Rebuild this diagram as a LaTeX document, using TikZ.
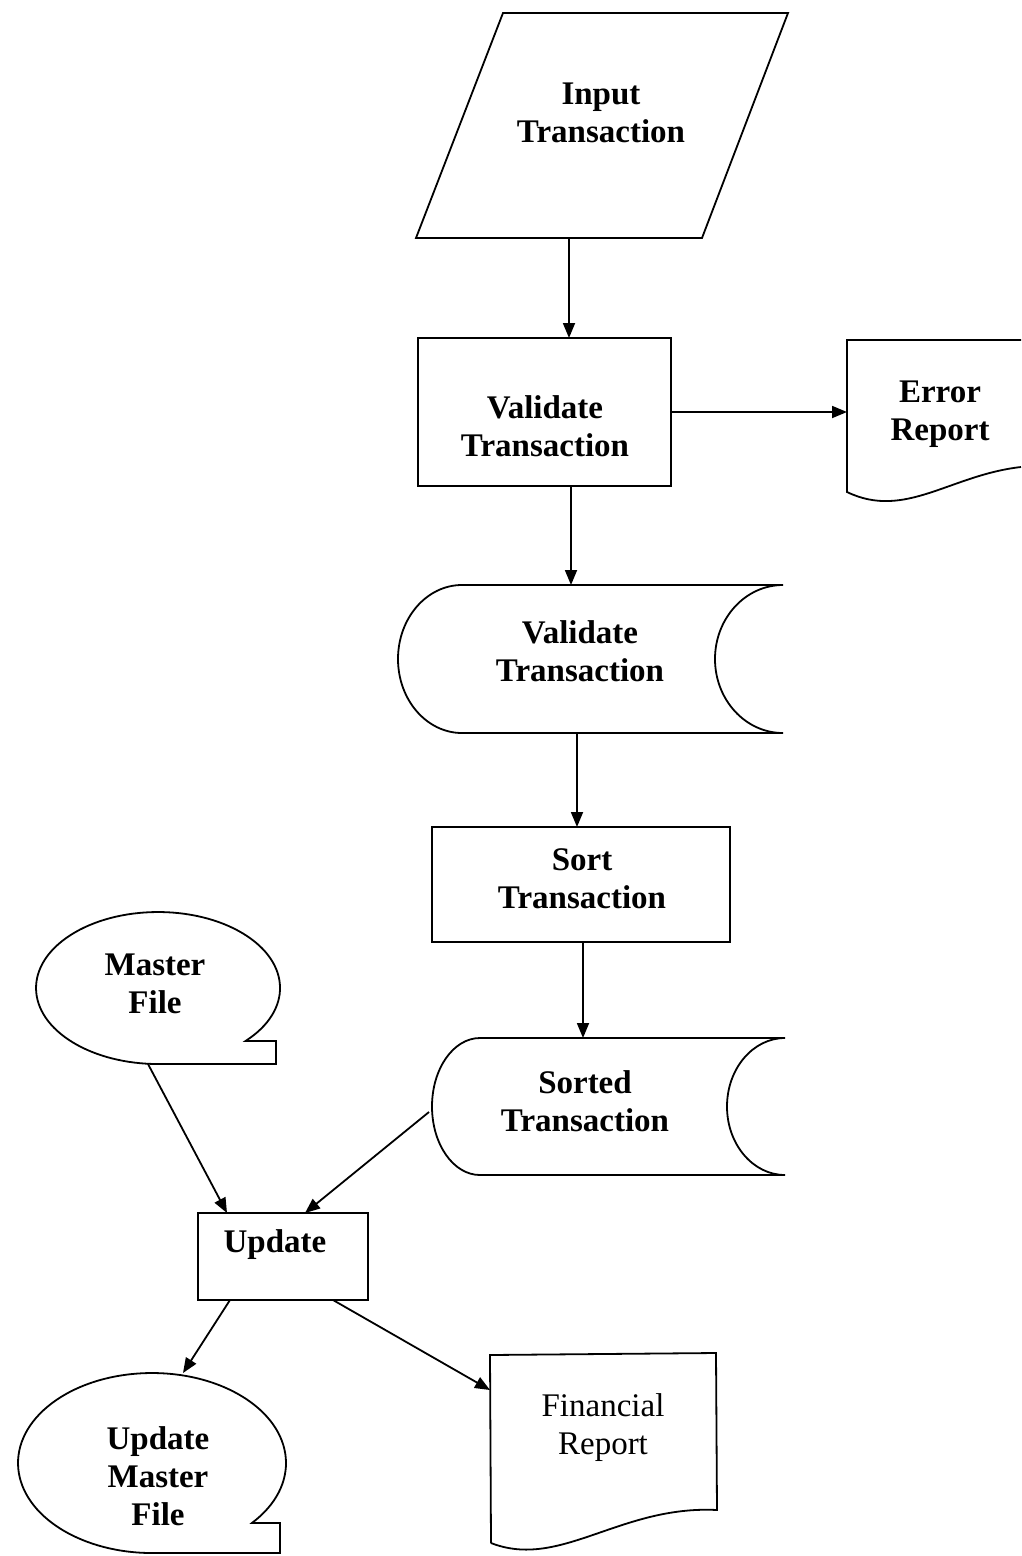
\documentclass[tikz,border=0pt]{standalone}
\usepackage{fontspec}
\setmainfont{Liberation Serif}
\usetikzlibrary{arrows.meta,calc}
\begin{document}
\begin{tikzpicture}[x=1pt,y=1pt,
  every path/.style={line width=1.8pt},
  lbl/.style={font=\fontsize{33}{38}\selectfont\bfseries, align=center, inner sep=0pt},
  lblreg/.style={font=\fontsize{33}{38}\selectfont, align=center, inner sep=0pt},
  area/.style={draw=none, inner sep=0pt, outer sep=0pt},
  procbox/.style={draw, line width=1.8pt, inner sep=0pt, outer sep=0pt},
  arr/.style={line width=1.8pt, -{Triangle[length=15pt,width=12pt]}},
  outline/.style={line width=1.8pt, line join=miter}]
\useasboundingbox (0,0) rectangle (1021,-1556);
\fill[white] (0,0) rectangle (1021,-1556);

% Input Transaction (parallelogram)
\node[area, minimum width=372, minimum height=225] (inp) at (602,-125.5) {};
\draw[outline] (503,-13) -- (788,-13) -- (702,-238) -- (416,-238) -- cycle;
\node[lbl] (inp-t) at (601,-113) {Input\\Transaction};

% Validate Transaction (process)
\node[procbox, minimum width=253, minimum height=148] (val) at (544.5,-412) {};
\node[lbl] (val-t) at (545,-426) {Validate\\Transaction};

% Error Report (document)
\node[area, minimum width=174, minimum height=152] (err) at (934,-416) {};
\draw[outline] (1021,-340) -- (847,-340) -- (847,-492)
  .. controls (905,-520) and (950,-475) .. (1021,-467);
\node[lbl] (err-t) at (940,-414) {Error\\Report};

% Validate Transaction (stored data)
\node[area, minimum width=385, minimum height=148] (vt) at (590.5,-659) {};
\draw[outline] (462,-585) -- (783,-585)
  arc[start angle=90, end angle=270, x radius=68pt, y radius=74pt]
  -- (462,-733)
  arc[start angle=270, end angle=90, x radius=64pt, y radius=74pt] -- cycle;
\node[lbl] (vt-t) at (580,-651) {Validate\\Transaction};

% Sort Transaction (process)
\node[procbox, minimum width=298, minimum height=115] (sort) at (581,-884.5) {};
\node[lbl] (sort-t) at (582,-879) {Sort\\Transaction};

% Sorted Transaction (stored data)
\node[area, minimum width=353, minimum height=137] (st) at (608.5,-1106.5) {};
\draw[outline] (480,-1038) -- (785,-1038)
  arc[start angle=90, end angle=270, x radius=58pt, y radius=68.5pt]
  -- (480,-1175)
  arc[start angle=270, end angle=90, x radius=48pt, y radius=68.5pt] -- cycle;
\node[lbl] (st-t) at (585,-1101) {Sorted\\Transaction};

% Master File (tape)
\node[area, minimum width=244, minimum height=152] (mf) at (158,-988) {};
\draw[outline] (245.5,-1041)
  arc[start angle=-44.2, end angle=270, x radius=122pt, y radius=76pt]
  -- (276,-1064) -- (276,-1041) -- cycle;
\node[lbl] (mf-t) at (155,-984) {Master\\File};

% Update (process)
\node[procbox, minimum width=170, minimum height=87] (upd) at (283,-1256.5) {};
\node[lbl] (upd-t) at (275,-1245) {Update};

% Update Master File (tape)
\node[area, minimum width=268, minimum height=180] (umf) at (152,-1463) {};
\draw[outline] (251.9,-1523)
  arc[start angle=-41.8, end angle=270, x radius=134pt, y radius=90pt]
  -- (280,-1553) -- (280,-1523) -- cycle;
\node[lbl] (umf-t) at (158,-1476) {Update\\Master\\File};

% Financial Report (document)
\node[area, minimum width=227, minimum height=199] (fin) at (603.5,-1452.5) {};
\draw[outline] (491,-1543) -- (490,-1355) -- (716,-1353) -- (717,-1510)
  .. controls (620,-1505) and (560,-1570) .. (491,-1543);
\node[lblreg] (fin-t) at (603,-1428) {Financial\\Report};

% connector end points
\coordinate (c1) at ($(inp.south)+(-33,0)$);
\coordinate (c2) at ($(val.south)+(26.5,0)$);
\coordinate (c3) at ($(vt.south)+(-13.5,0)$);
\coordinate (c4) at ($(sort.south)+(2,0)$);
\coordinate (mfo) at ($(mf.south)+(-10,0)$);
\coordinate (updi1) at ($(upd.north)+(-56,0)$);
\coordinate (sto) at ($(st.west)+(-3,-5.5)$);
\coordinate (updi2) at ($(upd.north)+(22,0)$);
\coordinate (updo1) at ($(upd.south)+(-53,0)$);
\coordinate (umfi) at ($(umf.north)+(31,0)$);
\coordinate (updo2) at ($(upd.south)+(50,0)$);
\coordinate (fini) at ($(fin.north west)+(0,-37)$);

% connectors
\draw[arr] (c1) -- (c1 |- val.north);
\draw[arr] (val.east) -- (val.east -| err.west);
\draw[arr] (c2) -- (c2 |- vt.north);
\draw[arr] (c3) -- (c3 |- sort.north);
\draw[arr] (c4) -- (c4 |- st.north);
\draw[arr] (mfo) -- (updi1);
\draw[arr] (sto) -- (updi2);
\draw[arr] (updo1) -- (umfi);
\draw[arr] (updo2) -- (fini);
\end{tikzpicture}
\end{document}
